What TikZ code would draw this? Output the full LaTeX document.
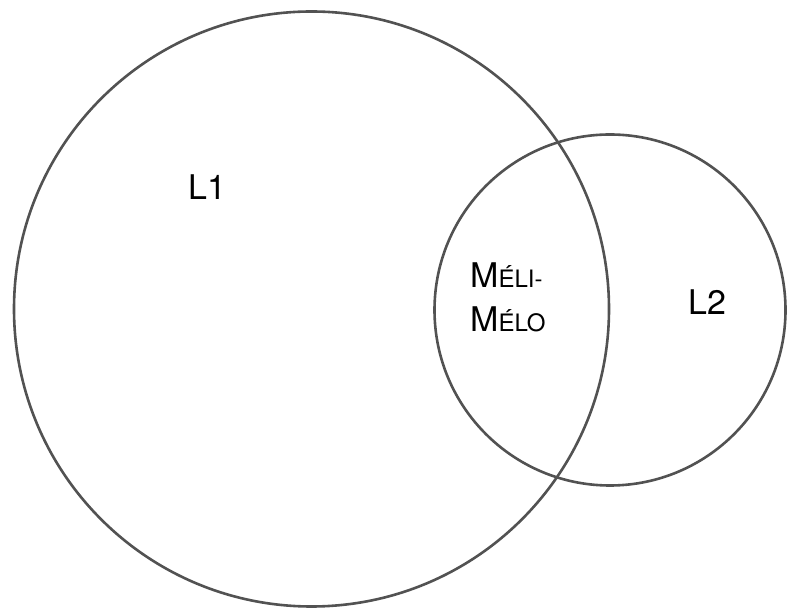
\documentclass[tikz,border=0pt]{standalone}
\usepackage{fontspec}
\setmainfont{TeX Gyre Heros}
\begin{document}
\begin{tikzpicture}[x=1pt,y=1pt,
  setline/.style={draw=black!68, line width=2.6pt},
  lbl/.style={anchor=base west, inner sep=0pt, font=\fontsize{34}{40}\selectfont}]
\useasboundingbox (0,0) rectangle (787,613);
\draw[setline] (311.5,304) circle (297.5);
\draw[setline] (610,303) circle (175.5);
\node[lbl] (l1) at (188,413) {L1};
\node[lbl] (l2) at (688,298) {L2};
\node[lbl] (m1) at (470,325) {M{\fontsize{24}{28}\selectfont ÉLI-}};
\node[lbl] (m2) at (470,281) {M{\fontsize{24}{28}\selectfont ÉLO}};
\end{tikzpicture}
\end{document}
